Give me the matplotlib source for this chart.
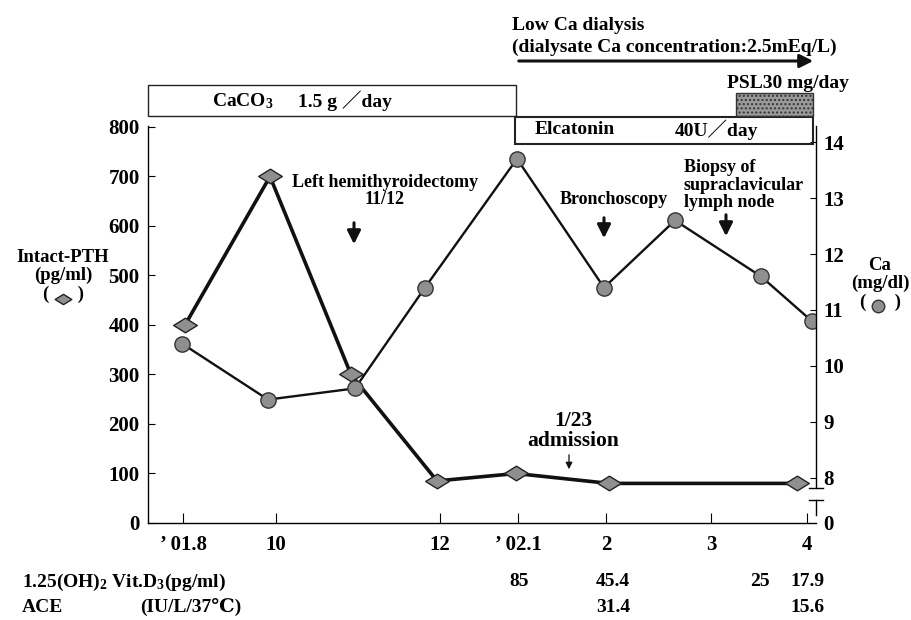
import matplotlib
matplotlib.use("Agg")
import matplotlib.pyplot as plt
import matplotlib.transforms as mtransforms
from matplotlib.patches import Rectangle
from matplotlib.lines import Line2D
from matplotlib.path import Path

plt.rcParams['font.family'] = ['Liberation Serif', 'DejaVu Serif', 'Noto Sans CJK JP']
plt.rcParams['font.weight'] = 'bold'
plt.rcParams['mathtext.default'] = 'regular'

# time axis (arbitrary position units along the date axis)
tick_pos = [35, 128, 292, 370, 458, 563, 659]
tick_labels = ["’ 01.8", "10", "12", "’ 02.1", "2", "3", "4"]

# intact-PTH (pg/ml), diamonds
pth_x = [37, 122, 203, 289, 368, 461, 649]
pth = [400, 700, 300, 85, 100, 80, 80]

# Ca (mg/dl), circles
ca_x = [34, 120, 207, 277, 369, 456, 527, 613, 664]
ca = [10.4, 9.4, 9.6, 11.4, 13.7, 11.4, 12.6, 11.6, 10.8]

# table under the chart
vitd_x = [371, 465, 612, 660]
vitd = ["85", "45.4", "25", "17.9"]
ace_x = [465, 660]
ace = ["31.4", "15.6"]

W, H = 911, 620


def fx(px):
    return px / W


def fy(py):
    return 1 - py / H


diamond = Path([(-1, 0), (0, 0.62), (1, 0), (0, -0.62), (-1, 0)],
               [Path.MOVETO, Path.LINETO, Path.LINETO, Path.LINETO, Path.CLOSEPOLY])

fig = plt.figure(figsize=(9.11, 6.2), dpi=100)
ax = fig.add_axes([fx(148), fy(523), fx(816) - fx(148), fy(126) - fy(523)])
ax2 = ax.twinx()

ax.set_xlim(0, 668)
ax.set_ylim(0, 802)
ax2.set_ylim(7.196, 14.286)

ax.plot(pth_x, pth, color='#111111', lw=2.6, marker=diamond, ms=17,
        mfc='#8f8f8f', mec='#222222', mew=1.0, zorder=3)
ax2.plot(ca_x, ca, color='#111111', lw=1.7, marker='o', ms=11,
         mfc='#8f8f8f', mec='#333333', mew=1.0, zorder=3)

for s in ['top', 'right']:
    ax.spines[s].set_visible(False)
for s in ['top', 'right', 'left', 'bottom']:
    ax2.spines[s].set_visible(False)
ax.spines['left'].set_linewidth(1.0)
ax.spines['bottom'].set_linewidth(1.0)

ax.set_yticks(range(0, 801, 100))
ax.tick_params(axis='y', direction='in', length=5, pad=6, labelsize=15)
ax.set_xticks(tick_pos)
ax.set_xticklabels(tick_labels)
ax.tick_params(axis='x', direction='in', length=7, pad=9, labelsize=15)

ax2.set_yticks([7.196] + list(range(8, 15)))
ax2.set_yticklabels(['0'] + [str(v) for v in range(8, 15)])
ax2.tick_params(axis='y', direction='in', length=4, pad=5, labelsize=15)
ax2.yaxis.get_major_ticks()[0].tick2line.set_visible(False)

# broken right axis
for y0, y1 in [(126, 488), (500, 515)]:
    fig.add_artist(Line2D([fx(816), fx(816)], [fy(y0), fy(y1)], color='k', lw=1.0))
for yb in [488, 500]:
    fig.add_artist(Line2D([fx(809), fx(823)], [fy(yb), fy(yb)], color='k', lw=1.0))

# treatment boxes
fig.add_artist(Rectangle((fx(148), fy(116)), fx(516) - fx(148), fy(85) - fy(116),
                         transform=fig.transFigure, fill=False, ec='#222222', lw=1.0))
fig.add_artist(Rectangle((fx(515), fy(144)), fx(813) - fx(515), fy(117) - fy(144),
                         transform=fig.transFigure, fill=False, ec='#222222', lw=1.5))
fig.add_artist(Rectangle((fx(736), fy(116)), fx(813) - fx(736), fy(93) - fy(116),
                         transform=fig.transFigure, fc='#9a9a9a', ec='#333333',
                         hatch='....', lw=1.0))

fig.text(fx(212), fy(101), "CaCO$_3$", fontsize=14, va='center')
fig.text(fx(298), fy(101), "1.5 g ／day", fontsize=14, va='center')
fig.text(fx(535), fy(130), "Elcatonin", fontsize=14, va='center')
fig.text(fx(675), fy(130), "40U／day", fontsize=14, va='center')
fig.text(fx(727), fy(83), "PSL30 mg/day", fontsize=14, va='center')

fig.text(fx(512), fy(25), "Low Ca dialysis", fontsize=14, va='center')
fig.text(fx(512), fy(47), "(dialysate Ca concentration:2.5mEq/L)", fontsize=14, va='center')
ax.annotate("", xy=(fx(816), fy(61)), xytext=(fx(516), fy(61)),
            xycoords='figure fraction', textcoords='figure fraction',
            arrowprops=dict(arrowstyle='-|>', lw=2.2, color='#111111', mutation_scale=20))


# event annotations
def event(label, tx, ty, ax_x, y0, y1, lw=2.2, ms=20, ha='center', size=13):
    fig.text(fx(tx), fy(ty), label, fontsize=size, ha=ha, va='center', linespacing=1.05)
    ax.annotate("", xy=(fx(ax_x), fy(y1)), xytext=(fx(ax_x), fy(y0)),
                xycoords='figure fraction', textcoords='figure fraction',
                arrowprops=dict(arrowstyle='-|>', lw=lw, color='#111111', mutation_scale=ms))


event("Left hemithyroidectomy\n11/12", 385, 191, 354, 220, 247)
event("Bronchoscopy", 614, 200, 604, 215, 241)
event("Biopsy of\nsupraclavicular\nlymph node", 684, 185, 726, 212, 239, ha='left')
event("1/23\nadmission", 573, 431, 569, 452, 472, lw=0.9, ms=10, size=15.5)

# axis titles
fig.text(fx(63), fy(276), "Intact-PTH\n(pg/ml)\n(      )", fontsize=13.5, ha='center',
         va='center', linespacing=1.1)
fig.add_artist(Line2D([fx(63)], [fy(299)], marker=diamond, ms=12, mfc='#8f8f8f',
                      mec='#222222', mew=1.0, transform=fig.transFigure))
fig.text(fx(880), fy(284), "Ca\n(mg/dl)\n(      )", fontsize=13.5, ha='center',
         va='center', linespacing=1.1)
fig.add_artist(Line2D([fx(878)], [fy(306)], marker='o', ms=9, mfc='#8f8f8f',
                      mec='#333333', mew=1.0, transform=fig.transFigure))

# table rows
trans = mtransforms.blended_transform_factory(ax.transData, fig.transFigure)
fig.text(fx(22), fy(582), "1.25(OH)$_2$ Vit.D$_3$(pg/ml)", fontsize=14, va='center')
fig.text(fx(22), fy(607), "ACE", fontsize=14, va='center')
fig.text(fx(191), fy(607), "(IU/L/37℃)", fontsize=14, va='center', ha='center')
for xv, v in zip(vitd_x, vitd):
    ax.text(xv, fy(582), v, transform=trans, fontsize=14, ha='center', va='center')
for xv, v in zip(ace_x, ace):
    ax.text(xv, fy(607), v, transform=trans, fontsize=14, ha='center', va='center')

fig.savefig("out.png", dpi=100)
